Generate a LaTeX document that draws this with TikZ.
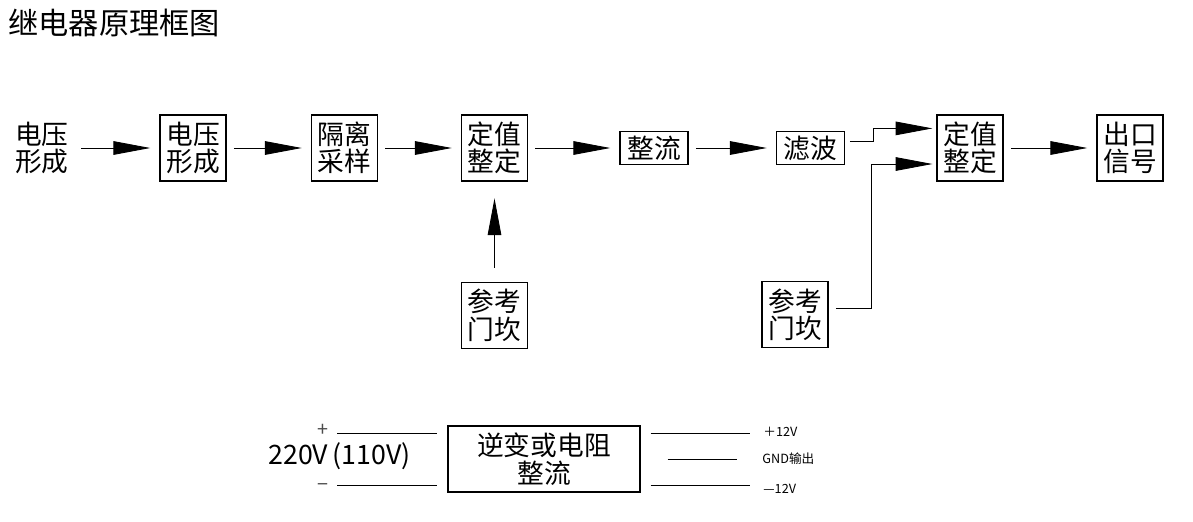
\documentclass[tikz,border=0pt]{standalone}
\usepackage{fontspec}
\setmainfont{Noto Sans CJK SC}
\usepackage{tikz}
\usetikzlibrary{arrows.meta,positioning}

\begin{document}
\begin{tikzpicture}[x=0.025cm,y=-0.025cm,line width=0.6pt,>={Triangle[length=0.92cm,width=0.34cm]},font=\fontsize{19}{19.5}\selectfont]
\tikzstyle{box}=[rectangle,draw=black,line width=0.8pt,align=center,inner sep=0pt,minimum width=1.65cm,minimum height=1.65cm]
\tikzstyle{flat}=[box,minimum width=1.7cm,minimum height=0.83cm]
\tikzstyle{flow}=[->,shorten <=0.18cm,shorten >=0.23cm]
\tikzstyle{small}=[inner sep=0pt,anchor=west,font=\fontsize{9}{9}\selectfont]
\tikzstyle{sign}=[inner sep=0pt,text=black!70,font=\fontsize{14}{14}\selectfont]
\useasboundingbox (0,0) rectangle (1193,521);
\node[inner sep=0pt,anchor=west,font=\fontsize{21.5}{22}\selectfont] (title) at (8,23) {继电器原理框图};
% main chain
\node[align=center] (src) at (42,148) {电压\\形成};
\node[box] (form) at (193,148) {电压\\形成};
\node[box] (iso) at (344.5,148) {隔离\\采样};
\node[box] (cmp1) at (494.5,148) {定值\\整定};
\node[flat] (rect) at (654,148) {整流};
\node[flat] (filt) at (810.5,148) {滤波};
\node[box] (cmp2) at (970,148) {定值\\整定};
\node[box] (out) at (1130,148) {出口\\信号};
\node[box,below=2.5cm of cmp1] (ref1) {参考\\门坎};
\node[box] (ref2) at (795,314.5) {参考\\门坎};
\draw[flow] (src) -- (form);
\draw[flow] (form) -- (iso);
\draw[flow] (iso) -- (cmp1);
\draw[flow] (cmp1) -- (rect);
\draw[flow] (rect) -- (filt);
\draw[flow] (cmp2) -- (out);
\draw[->,shorten <=0.35cm,shorten >=0.42cm] (ref1) -- (cmp1);
\draw[->,shorten <=0.12cm,shorten >=0.1cm] ([yshift=0.175cm]filt.east) -- ++(28,0) |- ([yshift=0.49cm]cmp2.west);
\draw[->,shorten <=0.18cm,shorten >=0.1cm] ([yshift=0.14cm]ref2.east) -- ++(43,0) |- ([yshift=-0.4cm]cmp2.west);
% power supply
\node[box,minimum width=4.8cm] (conv) at (544,459) {逆变或电阻\\整流};
\coordinate (pin) at (337,433);
\coordinate (nin) at (337,485);
\coordinate (pout) at (750,433);
\coordinate (nout) at (750,485);
\coordinate (gnd) at (737,459);
\draw[shorten >=0.25cm] (pin) -- (pin -| conv.west);
\draw[shorten >=0.25cm] (nin) -- (nin -| conv.west);
\draw[shorten <=0.25cm] (pout -| conv.east) -- (pout);
\draw[shorten <=0.25cm] (nout -| conv.east) -- (nout);
\draw[shorten <=0.675cm] (conv.east) -- (gnd);
\node[sign] (plus) at (323,430) {+};
\node[sign] (minus) at (323,488) {−};
\node[inner sep=0pt,anchor=west] (vin) at (268,456) {220V\,(110V)};
\node[small] (p12) at (763,432) {＋12V};
\node[small] (g12) at (762,459) {GND输出};
\node[small] (n12) at (763,489) {—12V};
\end{tikzpicture}
\end{document}
